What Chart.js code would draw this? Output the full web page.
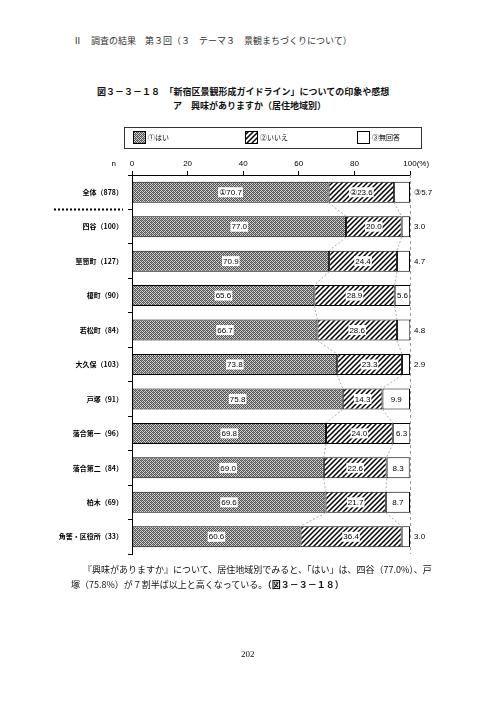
<!DOCTYPE html>
<html><head><meta charset="utf-8">
<script src="https://cdn.jsdelivr.net/npm/chart.js@4.4.1/dist/chart.umd.min.js"></script>
<style>
html,body{margin:0;padding:0;background:#fff;}
body{width:496px;height:702px;position:relative;overflow:hidden;font-family:"Noto Sans CJK JP",sans-serif;color:#111;}
.t{position:absolute;white-space:nowrap;line-height:1;}
#c{position:absolute;left:0;top:0;}
</style></head><body>
<div class="t" style="left:73px;top:36px;font-size:9px;color:#333">Ⅱ　調査の結果　第３回（３　テーマ３　景観まちづくりについて）</div>
<div class="t" style="left:97px;top:87px;font-size:9px;font-weight:bold">図３－３－１８　「新宿区景観形成ガイドライン」についての印象や感想</div>
<div class="t" style="left:173px;top:101px;font-size:9px;font-weight:bold">ア　興味がありますか（居住地域別）</div>
<canvas id="c" width="496" height="702"></canvas>
<div class="t" style="left:83px;top:565px;font-size:9px;">『興味がありますか』について、居住地域別でみると、「はい」は、四谷（77.0%）、戸</div>
<div class="t" style="left:71px;top:580px;font-size:9px;">塚（75.8%）が７割半ば以上と高くなっている。<b>（図３－３－１８）</b></div>
<div class="t" style="left:241px;top:650px;font-size:9px;font-family:'Liberation Serif',serif;">202</div>
<script>
const categories = ['全体（878）','四谷（100）','箪笥町（127）','榎町（90）','若松町（84）','大久保（103）','戸塚（91）','落合第一（96）','落合第二（84）','柏木（69）','角筈・区役所（33）'];
const yes = [70.7,77.0,70.9,65.6,66.7,73.8,75.8,69.8,69.0,69.6,60.6];
const no = [23.6,20.0,24.4,28.9,28.6,23.3,14.3,24.0,22.6,21.7,36.4];
const noAnswer = [5.7,3.0,4.7,5.6,4.8,2.9,9.9,6.3,8.3,8.7,3.0];
const seriesNames = ['①はい','②いいえ','③無回答'];
const firstRowPrefixes = ['①','②','③'];
const xTickStep = 20;
const xUnit = '(%)';

const canvas = document.getElementById('c');
const cx = canvas.getContext('2d');
function dotPattern(){
  const c=document.createElement('canvas');c.width=c.height=4;
  const g=c.getContext('2d');g.fillStyle='#d4d4d4';g.fillRect(0,0,4,4);
  g.fillStyle='#555';
  for(let y=0;y<4;y++)for(let x=0;x<4;x++)if((x+y)%2===0)g.fillRect(x,y,1,1);
  g.fillStyle='#888';g.fillRect(1,0,1,1);g.fillRect(3,2,1,1);
  return cx.createPattern(c,'repeat');
}
function hatchPattern(){
  const s=5;const c=document.createElement('canvas');c.width=c.height=s;
  const g=c.getContext('2d');g.fillStyle='#fff';g.fillRect(0,0,s,s);
  g.strokeStyle='#000';g.lineWidth=1.5;g.beginPath();
  g.moveTo(0,s);g.lineTo(s,0);g.moveTo(-s/2,s/2);g.lineTo(s/2,-s/2);g.moveTo(s/2,s*1.5);g.lineTo(s*1.5,s/2);g.stroke();
  return cx.createPattern(c,'repeat');
}

const decor = {
  id:'decor',
  beforeDatasetsDraw(chart){
    const ctx=chart.ctx, xs=chart.scales.x, a=chart.chartArea;
    ctx.save();
    ctx.strokeStyle='#999';ctx.lineWidth=1;ctx.setLineDash([3,3]);
    const x100=Math.round(xs.getPixelForValue(100))+0.5;
    ctx.beginPath();ctx.moveTo(x100,a.top);ctx.lineTo(x100,a.bottom);ctx.stroke();
    ctx.strokeStyle='#aaa';ctx.setLineDash([2,2]);
    const m0=chart.getDatasetMeta(0), m1=chart.getDatasetMeta(1);
    for(let i=0;i<categories.length-1;i++){
      [m0,m1].forEach(m=>{
        const b1=m.data[i], b2=m.data[i+1];
        ctx.beginPath();
        ctx.moveTo(b1.x, b1.y + b1.height/2);
        ctx.lineTo(b2.x, b2.y - b2.height/2);
        ctx.stroke();
      });
    }
    ctx.restore();
  },
  afterDatasetsDraw(chart){
    const ctx=chart.ctx, xs=chart.scales.x;
    ctx.save();
    ctx.font='8px "Liberation Sans", "DejaVu Sans", sans-serif';
    ctx.textBaseline='middle';
    chart.data.datasets.forEach((ds,di)=>{
      const meta=chart.getDatasetMeta(di);
      meta.data.forEach((bar,i)=>{
        let txt=ds.data[i].toFixed(1);
        if(i===0) txt=firstRowPrefixes[di]+txt;
        const w=ctx.measureText(txt).width;
        const l=Math.min(bar.base,bar.x), r=Math.max(bar.base,bar.x);
        const inside = w+4 <= r-l;
        if(di===2 && !inside){
          ctx.textAlign='left';ctx.fillStyle='#000';
          ctx.fillText(txt, xs.getPixelForValue(100)+4, bar.y+0.5);
        } else {
          const c=(l+r)/2;
          ctx.fillStyle='#fff';
          ctx.fillRect(c-w/2-1, bar.y-5, w+2, 10);
          ctx.textAlign='center';ctx.fillStyle='#000';
          ctx.fillText(txt, c, bar.y+0.5);
        }
      });
    });
    ctx.restore();
  },
  afterDraw(chart){
    const ctx=chart.ctx, xs=chart.scales.x, ys=chart.scales.y;
    ctx.save();
    ctx.font='8px "Liberation Sans", sans-serif';ctx.fillStyle='#000';ctx.textBaseline='middle';ctx.textAlign='left';
    const x100=xs.getPixelForValue(100);
    ctx.fillText(xUnit, x100+ctx.measureText('100').width/2, 163.5);
    ctx.textAlign='right';
    ctx.fillText('n', 116, 164);
    const sepY=(ys.getPixelForValue(0)+ys.getPixelForValue(1))/2;
    ctx.strokeStyle='#000';ctx.lineWidth=2;ctx.setLineDash([2,2]);
    ctx.beginPath();ctx.moveTo(54,sepY);ctx.lineTo(123,sepY);ctx.stroke();
    ctx.setLineDash([]);
    ctx.lineWidth=1;ctx.strokeStyle='#333';
    ctx.strokeRect(124.5,127.5,297,21);
    ctx.font='7px "Noto Sans CJK JP", sans-serif';ctx.textAlign='left';
    chart.data.datasets.forEach((ds,k)=>{
      const x=133+k*112, y=131;
      ctx.fillStyle=ds.backgroundColor;ctx.fillRect(x,y,12,12);
      ctx.strokeStyle='#000';ctx.strokeRect(x+0.5,y+0.5,12,12);
      ctx.fillStyle='#000';ctx.fillText(ds.label,x+15,y+6.5);
    });
    ctx.restore();
  }
};

new Chart(canvas,{
  type:'bar',
  data:{labels:categories,datasets:[
    {label:seriesNames[0],data:yes,backgroundColor:dotPattern(),borderColor:'#000',borderWidth:1,borderSkipped:false},
    {label:seriesNames[1],data:no,backgroundColor:hatchPattern(),borderColor:'#000',borderWidth:1,borderSkipped:false},
    {label:seriesNames[2],data:noAnswer,backgroundColor:'#fff',borderColor:'#000',borderWidth:1,borderSkipped:false}
  ]},
  options:{
    indexAxis:'y',responsive:false,animation:false,devicePixelRatio:1,
    layout:{padding:{left:0,right:86,top:150,bottom:148}},
    datasets:{bar:{barPercentage:0.61,categoryPercentage:1}},
    plugins:{legend:{display:false},tooltip:{enabled:false}},
    scales:{
      x:{position:'top',stacked:true,min:0,max:100,
        ticks:{stepSize:xTickStep,font:{size:8,family:'"Liberation Sans", sans-serif'},color:'#000',padding:2,maxRotation:0},
        grid:{drawOnChartArea:false,tickLength:4,color:'#000'},border:{color:'#000'},
        afterFit(s){s.height=25;}},
      y:{stacked:true,
        ticks:{font:{size:7,weight:'bold',family:'"Noto Sans CJK JP", sans-serif'},color:'#000',padding:5,autoSkip:false},
        grid:{drawOnChartArea:false,tickLength:4,color:'#000',offset:true},border:{color:'#000'},
        afterFit(s){s.width=132;}}
    }
  },
  plugins:[decor]
});
</script>
</body></html>
